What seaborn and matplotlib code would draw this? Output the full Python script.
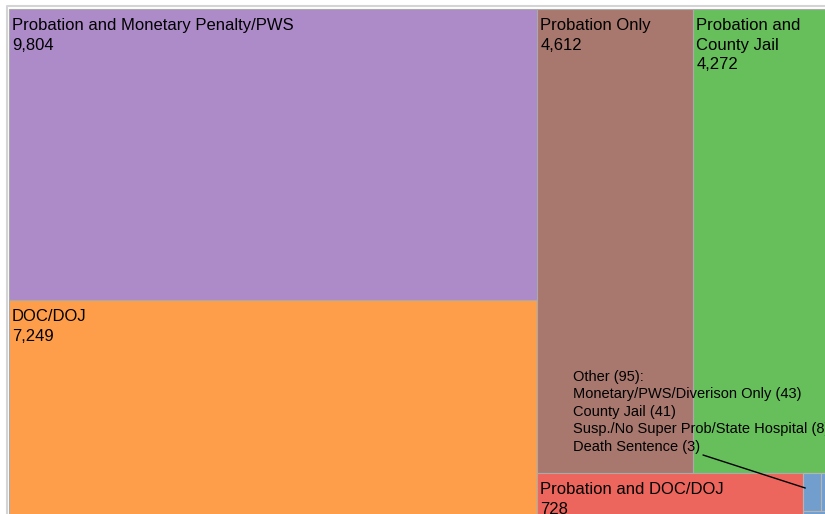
"""
Treemap of sentence types (cropped view)
"""
import textwrap

import matplotlib.pyplot as plt
import seaborn as sns

categories = [
    "Probation and Monetary Penalty/PWS",
    "DOC/DOJ",
    "Probation Only",
    "Probation and County Jail",
    "Probation and DOC/DOJ",
    "Other",
]
counts = [9804, 7249, 4612, 4272, 728, 95]
colors = ["#AD8BC9", "#FF9E4A", "#A8786E", "#67BF5C", "#ED665D", "#729ECE"]

other_categories = [
    "Monetary/PWS/Diverison Only",
    "County Jail",
    "Susp./No Super Prob/State Hospital",
    "Death Sentence",
]
other_counts = [43, 41, 8, 3]

PHI = (1 + 5 ** 0.5) / 2


def squarify(values, x0, y0, x1, y1, ratio=PHI):
    # d3 style squarified layout -> list of (x, y, w, h)
    boxes = []
    total = float(sum(values))
    i0, n = 0, len(values)
    while i0 < n:
        dx, dy = x1 - x0, y1 - y0
        s = values[i0]
        vmin = vmax = s
        alpha = max(dy / dx, dx / dy) / (total * ratio)
        beta = s * s * alpha
        best = max(vmax / beta, beta / vmin)
        i1 = i0 + 1
        while i1 < n:
            v = values[i1]
            s2 = s + v
            beta = s2 * s2 * alpha
            r = max(max(vmax, v) / beta, beta / min(vmin, v))
            if r > best:
                break
            s, best = s2, r
            vmin, vmax = min(vmin, v), max(vmax, v)
            i1 += 1
        row = values[i0:i1]
        if dx < dy:
            h = dy * s / total
            x = x0
            for v in row:
                w = dx * v / s
                boxes.append((x, y0, w, h))
                x += w
            y0 += h
        else:
            w = dx * s / total
            y = y0
            for v in row:
                h = dy * v / s
                boxes.append((x0, y, w, h))
                y += h
            x0 += w
        total -= s
        i0 = i1
    return boxes


sns.set_theme(style="white")
plt.rcParams["font.family"] = ["Liberation Sans", "DejaVu Sans"]

fig = plt.figure(figsize=(8.25, 5.14), dpi=100)
ax = fig.add_axes([0, 0, 1, 1])
ax.set_xlim(0, 825)
ax.set_ylim(514, 0)
ax.axis("off")

# outer frame of the chart area (extends past the crop)
ax.plot([7, 7, 845], [530, 6, 6], color="#d4d4d4", lw=1.5, solid_capstyle="butt")

X0, Y0, W, H = 9, 9, 829, 507
boxes = squarify(counts, X0, Y0, X0 + W, Y0 + H)

for name, val, col, (x, y, w, h) in zip(categories, counts, colors, boxes):
    if name == "Other":
        sub = squarify(other_counts, x, y, x + w, y + h)
        for (sx, sy, sw, sh) in sub:
            ax.bar(sx, sh, width=sw, bottom=sy, align="edge", color=col,
                   edgecolor="#b4b4b4", linewidth=0.8)
        other_box = (x, y, w, h)
        continue
    ax.bar(x, h, width=w, bottom=y, align="edge", color=col,
           edgecolor="#aaaaaa", linewidth=0.8)
    label = "\n".join(textwrap.wrap(name, width=int(w / 8.5)))
    ax.text(x + 3, y + 9, f"{label}\n{val:,}", ha="left", va="top",
            fontsize=12, color="black", linespacing=1.38)

# callout for the small "Other" group
other_lines = [f"Other ({counts[-1]}):"] + [
    f"{c} ({v})" for c, v in zip(other_categories, other_counts)
]
ax.text(573, 370, "\n".join(other_lines), ha="left", va="top",
        fontsize=10.5, color="black", linespacing=1.31)
ox, oy, ow, oh = other_box
ax.plot([703, ox + 2], [455, oy + 15], color="black", lw=1)

fig.savefig("out.png", dpi=100)
